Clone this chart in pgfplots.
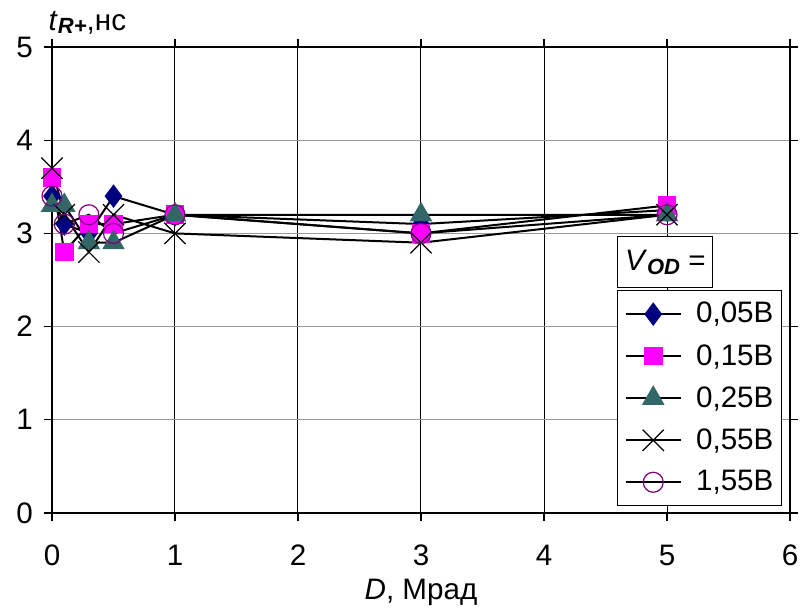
\documentclass[border=0pt]{standalone}
\usepackage{fontspec}
\setmainfont{Liberation Sans}
\usepackage{pgfplots}
\pgfplotsset{compat=1.18}

\definecolor{navyd}{HTML}{000080}
\definecolor{magn}{HTML}{FF00FF}
\definecolor{tealg}{HTML}{336666}
\definecolor{purp}{HTML}{800080}

\newcommand{\fs}{\fontsize{14.8pt}{17pt}\selectfont}

\begin{document}
\begin{tikzpicture}
\begin{axis}[
  name=ax,
  scale only axis,
  width=369pt, height=233pt,
  xmin=0, xmax=6, ymin=0, ymax=5,
  xtick={0,1,...,6}, ytick={0,1,...,5},
  /pgf/number format/assume math mode=true,
  tick label style={font=\fs},
  xticklabel style={yshift=-8.5pt},
  yticklabel style={xshift=-2pt},
  tick align=outside,
  major tick length=4pt,
  tick style={black, line width=0.6pt},
  axis line style={black, line width=0.8pt},
  xmajorgrids, ymajorgrids,
  x grid style={black, line width=0.5pt},
  y grid style={gray!80, line width=0.5pt},
  xlabel={\textit{D}, Мрад},
  xlabel style={font=\fs, at={(rel axis cs:0.5,0)}, anchor=base, yshift=-43pt},
  clip=false,
  legend style={at={(rel axis cs:0.766,0.479)}, anchor=north west,
    font=\fs, draw=black, line width=0.5pt, fill=white,
    row sep=5.2pt, inner xsep=0pt, inner ysep=4pt,
    nodes={inner xsep=4pt},
    cells={anchor=west}},
  legend image code/.code={
    \path (0cm,0cm) (1.2cm,0cm);
    \draw[mark repeat=2, mark phase=2, #1]
      plot coordinates {(0.12cm,0cm) (0.605cm,0cm) (1.09cm,0cm)};},
]
\addplot[black, line width=1pt, mark=diamond*, mark size=5.5pt,
  mark options={fill=navyd, draw=navyd, line width=0.5pt}]
  coordinates {(0,3.4)(0.1,3.1)(0.3,3.0)(0.5,3.4)(1,3.2)(3,3.1)(5,3.25)};
\addlegendentry{0,05В}
\addplot[black, line width=1pt, mark=square*, mark size=4.4pt,
  mark options={fill=magn, draw=magn, line width=0.5pt}]
  coordinates {(0,3.6)(0.1,2.8)(0.3,3.1)(0.5,3.1)(1,3.2)(3,3.0)(5,3.3)};
\addlegendentry{0,15В}
\addplot[black, line width=1pt, mark=triangle*, mark size=6pt,
  mark options={fill=tealg, draw=tealg, line width=0.5pt}]
  coordinates {(0,3.3)(0.1,3.3)(0.3,2.9)(0.5,2.9)(1,3.2)(3,3.2)(5,3.2)};
\addlegendentry{0,25В}
\addplot[black, line width=1pt, mark=x, mark size=7.5pt,
  mark options={draw=black, line width=0.6pt}]
  coordinates {(0,3.7)(0.1,3.2)(0.3,2.8)(0.5,3.2)(1,3.0)(3,2.9)(5,3.2)};
\addlegendentry{0,55В}
\addplot[black, line width=1pt, mark=o, mark size=5pt,
  mark options={draw=purp, line width=0.6pt}]
  coordinates {(0,3.4)(0.1,3.1)(0.3,3.2)(0.5,3.0)(1,3.2)(3,3.0)(5,3.2)};
\addlegendentry{1,55В}
\node[anchor=base west, font=\fs, inner sep=0pt] at (rel axis cs:-0.005,1) [yshift=8.5pt]
  {\textit{t}\raisebox{-0.25ex}{\fontsize{11pt}{13pt}\selectfont\textbf{\textit{R+}}},нс};
\node[draw=black, fill=white, line width=0.5pt, font=\fs, anchor=north west,
  minimum width=47.5pt, minimum height=25.5pt, inner sep=0pt]
  at (rel axis cs:0.766,0.594)
  {\textit{V}\raisebox{-0.25ex}{\fontsize{11pt}{13pt}\selectfont\textbf{\textit{OD}}} =};
\end{axis}
\path (ax.south west) ++(-26pt,-47pt) (ax.north east) ++(8.5pt,23.5pt);
\end{tikzpicture}
\end{document}
